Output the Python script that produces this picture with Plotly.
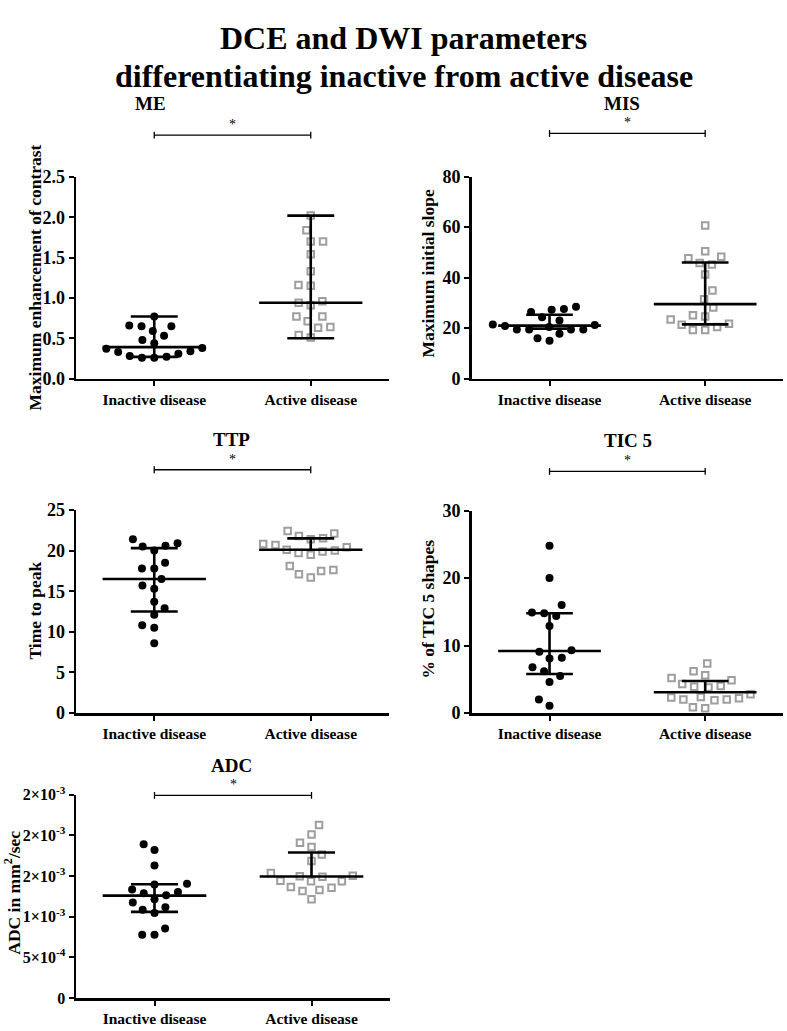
import math
import plotly.graph_objects as go

# ---------------- data ----------------
categories = ["Inactive disease", "Active disease"]

me_inactive = [0.77, 0.65, 0.65, 0.66, 0.59, 0.53, 0.48, 0.44, 0.38, 0.37, 0.34, 0.31, 0.33, 0.27, 0.26, 0.26, 0.28]
me_active = [2.02, 1.84, 1.70, 1.70, 1.54, 1.33, 1.16, 1.15, 0.96, 0.91, 0.94, 0.77, 0.71, 0.77, 0.63, 0.64, 0.51, 0.54]
me_median = [0.39, 0.94]
me_q1 = [0.27, 0.50]
me_q3 = [0.77, 2.02]

mis_inactive = [28.5, 27.3, 26.4, 27.6, 24.3, 23.0, 21.2, 20.4, 21.4, 19.5, 17.8, 19.5, 19.5, 20.8, 19.5, 15.0, 16.0]
mis_active = [60.6, 50.4, 47.7, 48.3, 45.2, 45.8, 41.2, 34.9, 31.4, 28.2, 25.1, 24.6, 21.7, 20.4, 19.3, 19.3, 21.3, 23.4]
mis_median = [21.0, 29.5]
mis_q1 = [19.8, 21.5]
mis_q3 = [25.3, 46.0]

ttp_inactive = [21.4, 20.5, 20.6, 20.9, 20.0, 17.8, 17.8, 18.5, 16.5, 15.3, 15.7, 13.7, 12.9, 12.1, 10.8, 10.5, 8.6]
ttp_active = [22.4, 21.8, 21.5, 21.4, 22.1, 20.8, 20.4, 20.1, 19.7, 19.5, 19.9, 20.0, 20.7, 18.1, 17.5, 16.7, 17.1, 17.6]
ttp_median = [16.5, 20.1]
ttp_q1 = [12.5, 20.1]
ttp_q3 = [20.3, 21.5]

tic_inactive = [24.8, 20.0, 16.0, 14.9, 14.8, 14.4, 12.9, 9.3, 9.1, 8.2, 8.1, 6.8, 6.2, 5.5, 4.6, 2.0, 1.1]
tic_active = [7.36, 6.2, 5.6, 4.85, 5.2, 4.0, 3.8, 3.9, 4.3, 2.8, 2.3, 2.0, 1.9, 2.0, 2.2, 2.4, 0.73, 0.87]
tic_median = [9.2, 3.1]
tic_q1 = [5.8, 3.1]
tic_q3 = [14.8, 4.75]

adc_inactive = [1.89e-3, 1.82e-3, 1.63e-3, 1.405e-3, 1.396e-3, 1.336e-3, 1.305e-3, 1.288e-3, 1.264e-3,
                1.216e-3, 1.176e-3, 1.088e-3, 1.116e-3, 1.047e-3, 0.855e-3, 0.78e-3, 0.78e-3]
adc_active = [2.127e-3, 2.010e-3, 1.910e-3, 1.858e-3, 1.766e-3, 1.685e-3, 1.505e-3, 1.493e-3, 1.444e-3,
              1.437e-3, 1.437e-3, 1.497e-3, 1.537e-3, 1.365e-3, 1.329e-3, 1.317e-3, 1.357e-3, 1.216e-3]
adc_median = [1.26e-3, 1.495e-3]
adc_q1 = [1.06e-3, 1.495e-3]
adc_q3 = [1.40e-3, 1.79e-3]

me_ticks = [0, 0.5, 1.0, 1.5, 2.0, 2.5]
me_ticktext = ["0.0", "0.5", "1.0", "1.5", "2.0", "2.5"]
mis_ticks = [0, 20, 40, 60, 80]
ttp_ticks = [0, 5, 10, 15, 20, 25]
tic_ticks = [0, 10, 20, 30]
adc_ticks = [0, 0.0005, 0.001, 0.0015, 0.002, 0.0025]
adc_ticktext = ["0", "5\u00d710<sup>-4</sup>", "1\u00d710<sup>-3</sup>", "2\u00d710<sup>-3</sup>",
                "2\u00d710<sup>-3</sup>", "2\u00d710<sup>-3</sup>"]

# ---------------- layout helpers ----------------
W, H = 787, 1031
FONT = "Liberation Serif"
GRAY = "#9e9e9e"


def py(p):
    return 1 - p / H


def px(p):
    return p / W


def swarm(values, ppu_y, ppu_x, d=12.3):
    """Classic beeswarm layout in pixel space; returns x offsets in axis units."""
    n = len(values)
    order = sorted(range(n), key=lambda i: values[i])
    placed = []
    xs = [0.0] * n
    toggle = 1
    for i in order:
        y = values[i] * ppu_y
        cands = [0.0]
        for (yj, xj) in placed:
            dy = abs(y - yj)
            if dy < d:
                dx = math.sqrt(d * d - dy * dy)
                cands += [xj + dx, xj - dx]
        valid = [c for c in cands
                 if all((c - xj) ** 2 + (y - yj) ** 2 >= d * d - 1e-6 for (yj, xj) in placed)]
        best = min(valid, key=lambda c: (round(abs(c), 3), toggle * c))
        if abs(best) > 1e-9:
            toggle = -toggle
        placed.append((y, best))
        xs[i] = best / ppu_x
    return xs


panels = [
    dict(title="ME", ytitle="Maximum enhancement of contrast", groups=(me_inactive, me_active),
         med=me_median, q1=me_q1, q3=me_q3, ymax=2.5, ticks=me_ticks, ticktext=me_ticktext, tfs=18,
         box=(76, 389, 169.3, 375.3), title_xy=(150, 94), ytitle_xy=(35, 272), bracket=126.7),
    dict(title="MIS", ytitle="Maximum initial slope", groups=(mis_inactive, mis_active),
         med=mis_median, q1=mis_q1, q3=mis_q3, ymax=80, ticks=mis_ticks, ticktext=None, tfs=18,
         box=(471.7, 783, 169.0, 375.3), title_xy=(622, 94), ytitle_xy=(428, 268), bracket=125),
    dict(title="TTP", ytitle="Time to peak", groups=(ttp_inactive, ttp_active),
         med=ttp_median, q1=ttp_q1, q3=ttp_q3, ymax=25, ticks=ttp_ticks, ticktext=None, tfs=18,
         box=(76, 389, 509.3, 716.7), title_xy=(232, 437), ytitle_xy=(35, 612), bracket=468.3),
    dict(title="TIC 5", ytitle="% of TIC 5 shapes", groups=(tic_inactive, tic_active),
         med=tic_median, q1=tic_q1, q3=tic_q3, ymax=30, ticks=tic_ticks, ticktext=None, tfs=18,
         box=(471.7, 783, 510.0, 716.7), title_xy=(628, 438), ytitle_xy=(428, 611), bracket=470),
    dict(title="ADC", ytitle="ADC in mm<sup>2</sup>/sec", groups=(adc_inactive, adc_active),
         med=adc_median, q1=adc_q1, q3=adc_q3, ymax=0.0025, ticks=adc_ticks, ticktext=adc_ticktext, tfs=16,
         box=(76, 390, 800.0, 1007.7), title_xy=(232, 770), ytitle_xy=(12, 900), bracket=800.7),
]

fig = go.Figure()
annotations = []
shapes = []
MED_HALF = 0.33
CAP_HALF = 0.15

for k, p in enumerate(panels, start=1):
    xa = "x" if k == 1 else f"x{k}"
    ya = "y" if k == 1 else f"y{k}"
    x0, x1, top, bot = p["box"]
    ppu_x = (x1 - x0) / 2.0
    ppu_y = (bot - top) / p["ymax"]

    # points
    for g, vals in enumerate(p["groups"]):
        offs = swarm(vals, ppu_y, ppu_x)
        xs = [g + o for o in offs]
        if g == 0:
            marker = dict(symbol="circle", size=8, color="black", line=dict(width=0))
        else:
            marker = dict(symbol="square-open", size=6.5, color=GRAY, line=dict(width=2, color=GRAY))
        fig.add_trace(go.Scatter(x=xs, y=vals, mode="markers", marker=marker,
                                 xaxis=xa, yaxis=ya, showlegend=False, cliponaxis=False,
                                 hoverinfo="skip"))

    # median and interquartile range
    lx, ly = [], []
    for g in range(2):
        m, a, b = p["med"][g], p["q1"][g], p["q3"][g]
        lx += [g - MED_HALF, g + MED_HALF, None]
        ly += [m, m, None]
        lx += [g, g, None]
        ly += [a, b, None]
        if b != m:
            lx += [g - CAP_HALF, g + CAP_HALF, None]
            ly += [b, b, None]
        if a != m:
            lx += [g - CAP_HALF, g + CAP_HALF, None]
            ly += [a, a, None]
    fig.add_trace(go.Scatter(x=lx, y=ly, mode="lines", line=dict(color="black", width=2.6),
                             xaxis=xa, yaxis=ya, showlegend=False, hoverinfo="skip",
                             cliponaxis=False))

    # axes
    axkey = "xaxis" if k == 1 else f"xaxis{k}"
    aykey = "yaxis" if k == 1 else f"yaxis{k}"
    fig.update_layout({
        axkey: dict(domain=[px(x0), px(x1)], anchor=ya, range=[-0.5, 1.5],
                    tickvals=[0, 1], ticktext=categories, showline=True, linecolor="black",
                    linewidth=2.5, ticks="outside", ticklen=5, tickwidth=2, tickcolor="black",
                    showgrid=False, zeroline=False,
                    tickfont=dict(family=FONT, size=15.5, color="black", weight="bold")),
        aykey: dict(domain=[py(bot), py(top)], anchor=xa, range=[0, p["ymax"]],
                    tickvals=p["ticks"], ticktext=p["ticktext"] if p["ticktext"] else [str(t) for t in p["ticks"]],
                    showline=True, linecolor="black", linewidth=2.5, ticks="outside",
                    ticklen=5, tickwidth=2, tickcolor="black", showgrid=False, zeroline=False,
                    tickfont=dict(family=FONT, size=p["tfs"], color="black", weight="bold")),
    })

    # panel title
    tx, ty = p["title_xy"]
    annotations.append(dict(text=p["title"], x=px(tx), y=py(ty), xref="paper", yref="paper",
                            showarrow=False, xanchor="center", yanchor="middle",
                            font=dict(family=FONT, size=19, color="black", weight="bold")))
    # y title
    ax_, ay_ = p["ytitle_xy"]
    annotations.append(dict(text=p["ytitle"], x=px(ax_), y=py(ay_), xref="paper", yref="paper",
                            showarrow=False, xanchor="center", yanchor="middle", textangle=-90,
                            font=dict(family=FONT, size=17.5, color="black", weight="bold")))
    # significance bracket
    yb = p["bracket"]
    shapes.append(dict(type="line", xref=xa, yref="paper", x0=0, x1=1, y0=py(yb), y1=py(yb),
                       line=dict(color="black", width=1.3)))
    for xe in (0, 1):
        shapes.append(dict(type="line", xref=xa, yref="paper", x0=xe, x1=xe,
                           y0=py(yb - 3.5), y1=py(yb + 3.5), line=dict(color="black", width=1.3)))
    annotations.append(dict(text="*", x=0.5, y=py(yb - 1), xref=xa, yref="paper",
                            showarrow=False, xanchor="center", yanchor="bottom",
                            font=dict(family=FONT, size=14, color="black")))

# main title
annotations.append(dict(text="DCE and DWI parameters", x=px(404), y=py(28), xref="paper", yref="paper",
                        showarrow=False, xanchor="center", yanchor="middle",
                        font=dict(family=FONT, size=32, color="black", weight="bold")))
annotations.append(dict(text="differentiating inactive from active disease", x=px(404), y=py(66),
                        xref="paper", yref="paper", showarrow=False, xanchor="center", yanchor="middle",
                        font=dict(family=FONT, size=32, color="black", weight="bold")))

fig.update_layout(width=W, height=H, margin=dict(l=0, r=0, t=0, b=0),
                  paper_bgcolor="white", plot_bgcolor="white",
                  annotations=annotations, shapes=shapes, showlegend=False)

fig.write_html("out.html", config={"displayModeBar": False, "staticPlot": True},
               post_script="document.body.style.margin='0';")
